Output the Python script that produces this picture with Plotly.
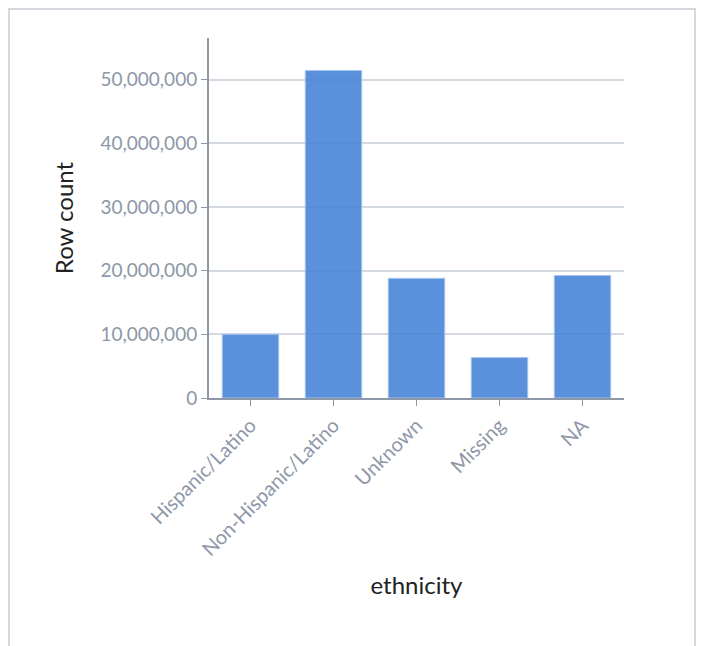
import plotly.graph_objects as go

categories = ["Hispanic/Latino", "Non-Hispanic/Latino", "Unknown", "Missing", "NA"]
row_counts = [10_000_000, 51_450_000, 18_800_000, 6_350_000, 19_250_000]
y_ticks = [0, 10_000_000, 20_000_000, 30_000_000, 40_000_000, 50_000_000]
y_tick_labels = ["0", "10,000,000", "20,000,000", "30,000,000", "40,000,000", "50,000,000"]

W, H = 704, 646
L, R, T, B = 201, 88, 30, 256
pw, ph = W - L - R, H - T - B

def px(x):
    return (x - L) / pw

def py(y):
    return (H - B - y) / ph

FONT = "Lato, Noto Sans, sans-serif"
TICK_COLOR = "#8d97a8"
AXIS_COLOR = "#8d97a8"

fig = go.Figure(
    go.Bar(
        x=categories,
        y=row_counts,
        marker=dict(color="#4a84d8", opacity=0.9, line=dict(color="#9dbff0", width=1)),
    )
)

fig.update_layout(
    width=W,
    height=H,
    margin=dict(l=L, r=R, t=T, b=B, pad=0),
    paper_bgcolor="white",
    plot_bgcolor="white",
    bargap=0.32,
    showlegend=False,
    font=dict(family=FONT),
    shapes=[
        dict(
            type="rect",
            xref="paper",
            yref="paper",
            x0=px(1),
            x1=px(687),
            y0=py(720),
            y1=py(1),
            line=dict(color="#d5d9df", width=2),
            fillcolor="rgba(0,0,0,0)",
            layer="below",
        )
    ],
)

fig.update_xaxes(
    title=dict(text="ethnicity", font=dict(size=24, color="#222222"), standoff=18),
    tickangle=-45,
    tickfont=dict(size=20, color=TICK_COLOR),
    showline=True,
    linecolor=AXIS_COLOR,
    linewidth=2,
    ticks="outside",
    ticklen=6,
    tickcolor=AXIS_COLOR,
    showgrid=False,
)

fig.update_yaxes(
    title=dict(text="Row count", font=dict(size=24, color="#222222"), standoff=20),
    range=[0, 56_550_000],
    tickvals=y_ticks,
    ticktext=y_tick_labels,
    tickfont=dict(size=19, color=TICK_COLOR),
    showline=True,
    linecolor=AXIS_COLOR,
    linewidth=2,
    ticks="outside",
    ticklen=6,
    tickcolor=AXIS_COLOR,
    showgrid=True,
    gridcolor="#d5dae2",
    gridwidth=1.5,
    zeroline=False,
)

fig.write_html("out.html")
